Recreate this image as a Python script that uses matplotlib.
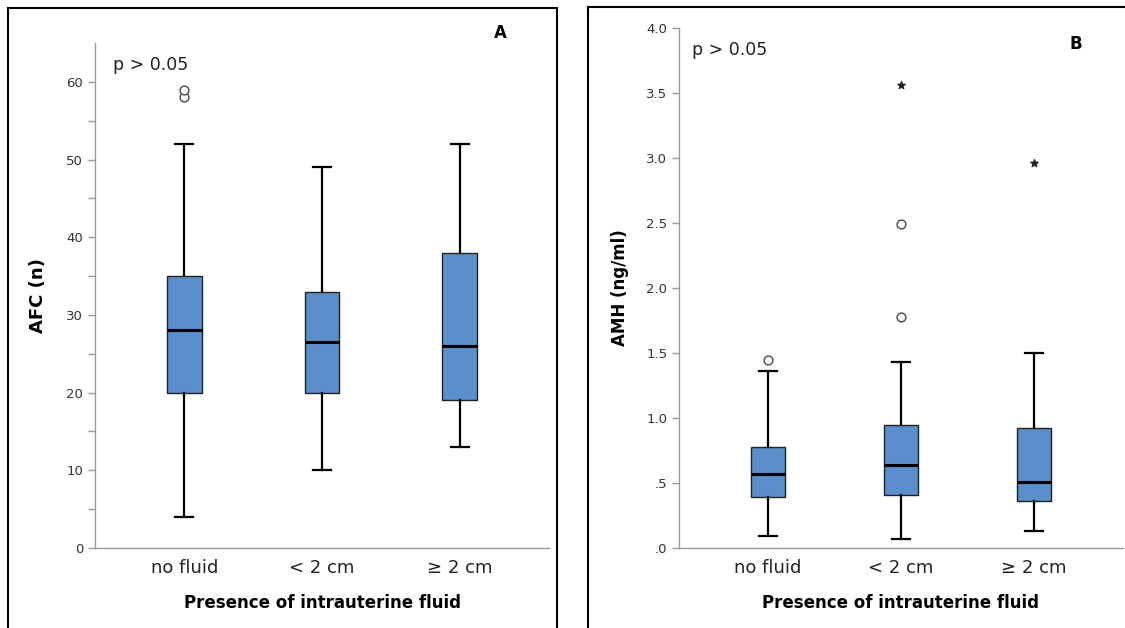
import matplotlib.pyplot as plt
from matplotlib.patches import Rectangle

plt.rcParams['font.family'] = ['DejaVu Sans']

groups = ["no fluid", "< 2 cm", "\u2265 2 cm"]

# AFC: whisker low, Q1, median, Q3, whisker high
afc_stats = [
    [4, 20, 28, 35, 52],
    [10, 20, 26.5, 33, 49],
    [13, 19, 26, 38, 52],
]
afc_outliers = [[58, 59], [], []]

# AMH (ng/ml)
amh_stats = [
    [0.09, 0.39, 0.57, 0.78, 1.36],
    [0.07, 0.41, 0.64, 0.95, 1.43],
    [0.13, 0.36, 0.51, 0.92, 1.50],
]
amh_outliers = [[1.45], [1.78, 2.49], []]
amh_extremes = [[], [3.56], [2.96]]

box_color = "#5a8fcb"
axis_gray = "#9a9a9a"
text_gray = "#333333"


def draw_boxes(ax, stats, outliers, extremes):
    bxp = []
    for lo, q1, med, q3, hi in stats:
        bxp.append({"whislo": lo, "q1": q1, "med": med, "q3": q3, "whishi": hi, "fliers": []})
    ax.bxp(bxp, positions=range(len(stats)), widths=0.25, patch_artist=True,
           showfliers=False,
           boxprops=dict(facecolor=box_color, edgecolor="#222222", linewidth=1.0),
           medianprops=dict(color="black", linewidth=2.2),
           whiskerprops=dict(color="black", linewidth=1.6),
           capprops=dict(color="black", linewidth=1.6),
           capwidths=0.13)
    for i, vals in enumerate(outliers):
        ax.scatter([i] * len(vals), vals, s=40, facecolors="white",
                   edgecolors="#555555", linewidths=1.1, zorder=3)
    for i, vals in enumerate(extremes):
        ax.scatter([i] * len(vals), vals, s=30, marker="*", color="#222222", zorder=3)


def style_axis(ax):
    for side in ["top", "right"]:
        ax.spines[side].set_visible(False)
    for side in ["left", "bottom"]:
        ax.spines[side].set_color(axis_gray)
        ax.spines[side].set_linewidth(1.0)
    ax.tick_params(axis="y", colors=axis_gray, labelcolor=text_gray, labelsize=9.5,
                   length=5, width=1.0)
    ax.tick_params(axis="x", length=0, labelsize=13, labelcolor="#222222", pad=8)
    ax.set_xticks(range(len(groups)))
    ax.set_xticklabels(groups)
    ax.set_xlabel("Presence of intrauterine fluid", fontsize=12, fontweight="bold",
                  labelpad=12)


fig = plt.figure(figsize=(11.25, 6.28), dpi=100)

# panel frames (right one runs off the canvas)
fig.patches.append(Rectangle((8 / 1125, -0.01), 549 / 1125, 1 - 8 / 628 + 0.01,
                             transform=fig.transFigure, fill=False,
                             edgecolor="black", linewidth=1.5))
fig.patches.append(Rectangle((588 / 1125, -0.01), 600 / 1125, 1 - 7 / 628 + 0.01,
                             transform=fig.transFigure, fill=False,
                             edgecolor="black", linewidth=1.5))

# panel A
ax1 = fig.add_axes([95 / 1125, 1 - 548 / 628, 454 / 1125, 505 / 628])
draw_boxes(ax1, afc_stats, afc_outliers, [[] for _ in groups])
ax1.set_xlim(-0.65, 2.65)
ax1.set_ylim(0, 65)
ax1.set_yticks(range(0, 65, 5))
ax1.set_yticklabels([str(v) if v % 10 == 0 else "" for v in range(0, 65, 5)])
style_axis(ax1)
ax1.set_ylabel("AFC (n)", fontsize=13, fontweight="bold", labelpad=14)
ax1.text(0.04, 0.956, "p > 0.05", transform=ax1.transAxes, fontsize=12.5,
         color="#222222", va="center")
fig.text(500 / 1125, 1 - 33 / 628, "A", fontsize=12, fontweight="bold",
         ha="center", va="center")

# panel B
ax2 = fig.add_axes([679 / 1125, 1 - 548 / 628, 444 / 1125, 520 / 628])
draw_boxes(ax2, amh_stats, amh_outliers, amh_extremes)
ax2.set_xlim(-0.67, 2.67)
ax2.set_ylim(0, 4.0)
ticks_b = [0, 0.5, 1.0, 1.5, 2.0, 2.5, 3.0, 3.5, 4.0]
ax2.set_yticks(ticks_b)
ax2.set_yticklabels([".0", ".5", "1.0", "1.5", "2.0", "2.5", "3.0", "3.5", "4.0"])
style_axis(ax2)
ax2.set_ylabel("AMH (ng/ml)", fontsize=12, fontweight="bold", labelpad=12)
ax2.text(0.03, 0.958, "p > 0.05", transform=ax2.transAxes, fontsize=12.5,
         color="#222222", va="center")
fig.text(1076 / 1125, 1 - 44 / 628, "B", fontsize=12, fontweight="bold",
         ha="center", va="center")

fig.savefig("out.png", dpi=100)
